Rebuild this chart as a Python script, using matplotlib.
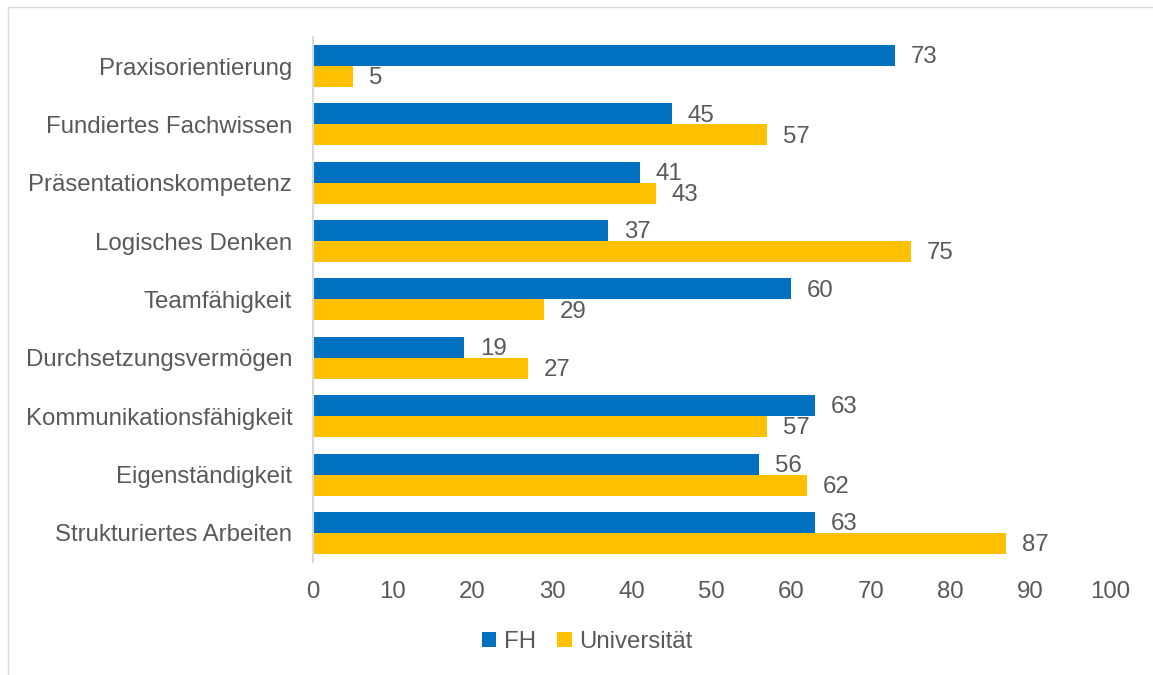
import matplotlib
matplotlib.use("Agg")
import matplotlib.pyplot as plt
import numpy as np
from matplotlib.patches import Rectangle

plt.rcParams["font.family"] = ["Liberation Sans", "DejaVu Sans"]

CATEGORIES = [
    "Praxisorientierung",
    "Fundiertes Fachwissen",
    "Präsentationskompetenz",
    "Logisches Denken",
    "Teamfähigkeit",
    "Durchsetzungsvermögen",
    "Kommunikationsfähigkeit",
    "Eigenständigkeit",
    "Strukturiertes Arbeiten",
]
FH = [73, 45, 41, 37, 60, 19, 63, 56, 63]
UNI = [5, 57, 43, 75, 29, 27, 57, 62, 87]
X_TICKS = [0, 10, 20, 30, 40, 50, 60, 70, 80, 90, 100]

BLUE = "#0070C0"
YELLOW = "#FFC000"
TEXT = "#595959"
FS = 17.3

fig = plt.figure(figsize=(11.53, 6.75), dpi=100)
ax = fig.add_axes([0.2715, 0.1674, 0.6912, 0.7778])

# outer chart frame
fig.patches.append(Rectangle((8 / 1153, -0.1), 1.2, 1 - 7 / 675 + 0.1,
                             transform=fig.transFigure, fill=False,
                             edgecolor="#D9D9D9", linewidth=1.0))

y = np.arange(len(CATEGORIES))
h = 0.36
ax.barh(y - h / 2, FH, height=h, color=BLUE, label="FH")
ax.barh(y + h / 2, UNI, height=h, color=YELLOW, label="Universität")

for yi, v in zip(y, FH):
    ax.text(v + 2.0, yi - h / 2 + 0.03, str(v), va="center", ha="left",
            fontsize=FS, color=TEXT)
for yi, v in zip(y, UNI):
    ax.text(v + 2.0, yi + h / 2 + 0.03, str(v), va="center", ha="left",
            fontsize=FS, color=TEXT)

ax.set_ylim(len(CATEGORIES) - 0.5, -0.5)
ax.set_xlim(0, 100)
ax.set_xticks(X_TICKS)
ax.set_yticks(y)
ax.set_yticklabels(CATEGORIES)
ax.tick_params(axis="both", length=0, labelsize=FS, labelcolor=TEXT)
ax.tick_params(axis="x", pad=14)
ax.tick_params(axis="y", pad=15)

for side in ["top", "right", "bottom"]:
    ax.spines[side].set_visible(False)
ax.spines["left"].set_color("#D9D9D9")
ax.spines["left"].set_linewidth(1.5)

fig.legend(loc="center", bbox_to_anchor=(587 / 1153, 1 - 642 / 675), ncol=2,
           frameon=False, fontsize=FS, labelcolor=TEXT, handlelength=0.6,
           handleheight=0.6, handletextpad=0.3, columnspacing=0.9)

fig.savefig("out.png", dpi=100)
